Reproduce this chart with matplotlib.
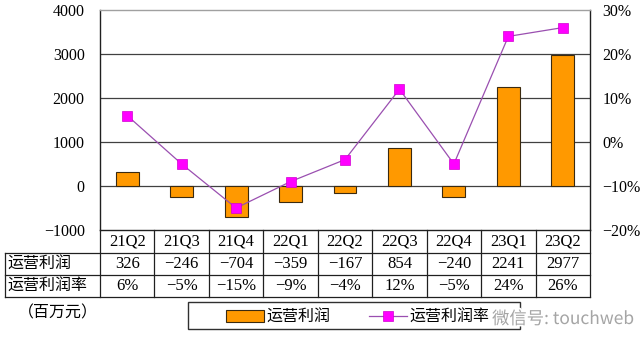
import matplotlib
matplotlib.use("Agg")
import matplotlib.pyplot as plt
from matplotlib.lines import Line2D
from matplotlib.patches import Rectangle, Patch
from matplotlib import transforms
import matplotlib.patheffects as pe

plt.rcParams['font.family'] = ['Liberation Serif', 'Noto Sans CJK SC', 'DejaVu Sans']
plt.rcParams['axes.unicode_minus'] = True

categories = ['21Q2', '21Q3', '21Q4', '22Q1', '22Q2', '22Q3', '22Q4', '23Q1', '23Q2']
profit = [326, -246, -704, -359, -167, 854, -240, 2241, 2977]
margin = [6, -5, -15, -9, -4, 12, -5, 24, 26]
left_ticks = [-1000, 0, 1000, 2000, 3000, 4000]
right_ticks = [-20, -10, 0, 10, 20, 30]
row_labels = ['运营利润', '运营利润率']
series_names = ['运营利润', '运营利润率']
unit_label = '（百万元）'
watermark = '微信号: touchweb'

W, H = 640, 348
fig = plt.figure(figsize=(W / 100, H / 100), dpi=100)


def fx(x):
    return x / W


def fy(y):
    return 1 - y / H


ax = fig.add_axes([fx(100), fy(230), (590 - 100) / W, (230 - 10) / H])
ax.set_xlim(-0.5, len(categories) - 0.5)
ax.set_ylim(-1000, 4000)
x = list(range(len(categories)))
ax.bar(x, profit, width=0.42, color='#FF9900', edgecolor='#3a2a10', linewidth=0.8, zorder=3)

for v in [0, 1000, 2000, 3000]:
    ax.axhline(v, color='#404040', linewidth=0.9, zorder=1)

ax.set_yticks(left_ticks)
ax.set_yticklabels([f'{v}'.replace('-', '\u2212') for v in left_ticks], fontsize=11.5)
ax.tick_params(axis='y', length=0, pad=11)
ax.set_xticks([])
ax.spines['top'].set_color('#a0a0a0')
ax.spines['top'].set_linewidth(1.0)
for s in ['left', 'right', 'bottom']:
    ax.spines[s].set_color('#202020')
    ax.spines[s].set_linewidth(1.0)

ax2 = ax.twinx()
ax2.set_ylim(-20, 30)
ax2.plot(x, margin, color='#9a4fb0', linewidth=0.9, marker='s', markersize=7.5,
         markerfacecolor='#FF00FF', markeredgecolor='#d000d0', markeredgewidth=0.5, zorder=4)
ax2.set_yticks(right_ticks)
ax2.set_yticklabels([f'{v}%'.replace('-', '\u2212') for v in right_ticks], fontsize=11.5)
ax2.tick_params(axis='y', length=0, pad=9)
for s in ax2.spines.values():
    s.set_visible(False)
ax2.set_xlim(ax.get_xlim())

# Table below the axes
blend = transforms.blended_transform_factory(ax.transData, fig.transFigure)
lc = '#202020'
lw = 0.9
for yy in [253, 275, 297]:
    fig.add_artist(Line2D([fx(5), fx(590)], [fy(yy), fy(yy)], transform=fig.transFigure, color=lc, lw=lw))
fig.add_artist(Line2D([fx(5), fx(5)], [fy(253), fy(297)], transform=fig.transFigure, color=lc, lw=lw))
n = len(categories)
for i in range(n + 1):
    xs = i - 0.5
    fig.add_artist(Line2D([xs, xs], [fy(230), fy(297)], transform=blend, color=lc, lw=lw))

for i, c in enumerate(categories):
    fig.text(i, fy(242), c, transform=blend, ha='center', va='center', fontsize=12)
    fig.text(i, fy(264.5), f'{profit[i]}'.replace('-', '\u2212'), transform=blend,
             ha='center', va='center', fontsize=12)
    fig.text(i, fy(286.5), f'{margin[i]}%'.replace('-', '\u2212'), transform=blend,
             ha='center', va='center', fontsize=12)

fig.text(fx(7), fy(264.5), row_labels[0], ha='left', va='center', fontsize=11.5,
         family=['Noto Sans CJK SC'])
fig.text(fx(7), fy(286.5), row_labels[1], ha='left', va='center', fontsize=11.5,
         family=['Noto Sans CJK SC'])
fig.text(fx(18), fy(313), unit_label, ha='left', va='center', fontsize=11.5,
         family=['Noto Sans CJK SC'])

# Legend
fig.add_artist(Rectangle((fx(188), fy(329)), (520 - 188) / W, (329 - 302) / H,
                         transform=fig.transFigure, facecolor='white', edgecolor='#303030', lw=1.0))
handles = [Patch(facecolor='#FF9900', edgecolor='#3a2a10', linewidth=0.8),
           Line2D([], [], color='#9a4fb0', lw=0.9, marker='s', markersize=7.5,
                  markerfacecolor='#FF00FF', markeredgecolor='#d000d0', markeredgewidth=0.5)]
leg = fig.legend(handles, series_names, loc='center left', bbox_to_anchor=(fx(218), fy(317)),
                 ncol=2, frameon=False, borderpad=0, handlelength=2.4, handletextpad=0.15,
                 columnspacing=2.4, prop={'family': 'Noto Sans CJK SC', 'size': 11.5})

# Watermark
fig.text(fx(492), fy(319), watermark, ha='left', va='center', fontsize=12.5, color='#a5a5a5',
         family=['Noto Sans CJK SC', 'DejaVu Sans'],
         path_effects=[pe.withStroke(linewidth=2.5, foreground='white')])

fig.savefig('out.png', dpi=100)
